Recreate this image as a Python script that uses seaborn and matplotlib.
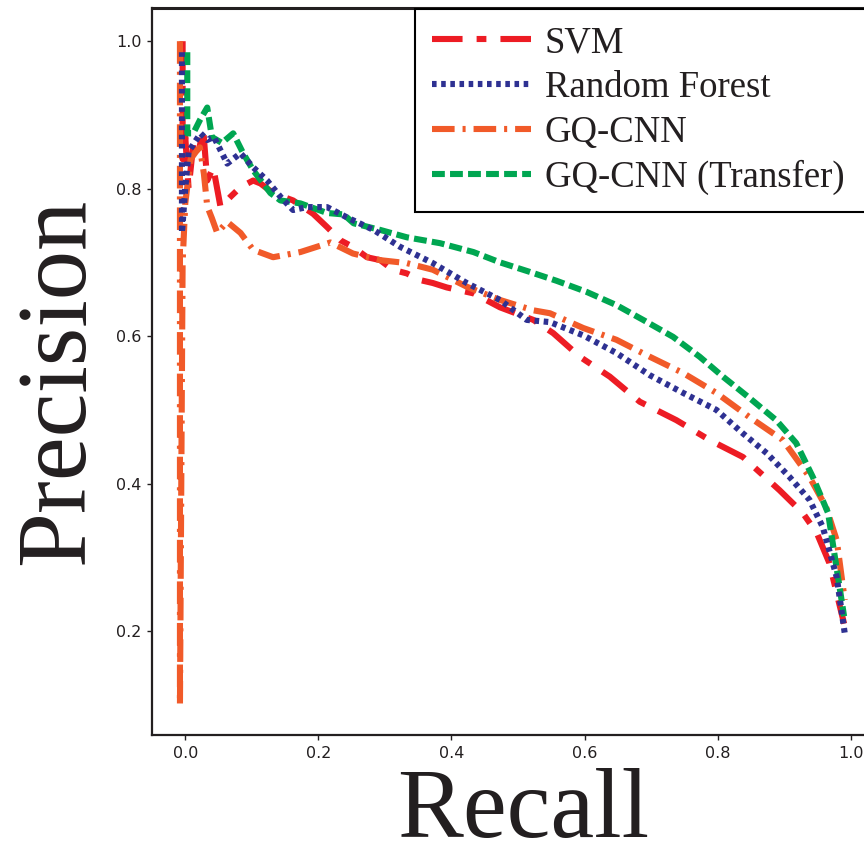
import matplotlib
matplotlib.use("Agg")
import matplotlib.pyplot as plt
import seaborn as sns
import pandas as pd

# ---------------- data ----------------
svm_recall = [-0.004, -0.004, 0.0, 0.005, 0.012, 0.02, 0.027, 0.033, 0.042, 0.053, 0.068,
              0.083, 0.102, 0.113, 0.132, 0.162, 0.192, 0.213, 0.233, 0.252, 0.273, 0.293,
              0.312, 0.333, 0.353, 0.372, 0.393, 0.433, 0.473, 0.523, 0.553, 0.593, 0.638,
              0.683, 0.738, 0.788, 0.838, 0.893, 0.928, 0.949, 0.968, 0.99]
svm_precision = [1.0, 0.84, 0.87, 0.80, 0.86, 0.85, 0.88, 0.811, 0.829, 0.775, 0.789,
                 0.802, 0.811, 0.807, 0.794, 0.784, 0.766, 0.748, 0.73, 0.721, 0.707, 0.703,
                 0.69, 0.685, 0.676, 0.672, 0.666, 0.658, 0.639, 0.622, 0.604, 0.572, 0.545,
                 0.511, 0.486, 0.459, 0.436, 0.391, 0.36, 0.333, 0.292, 0.21]

rf_recall = [-0.005, -0.005, 0.0, 0.005, 0.012, 0.023, 0.033, 0.043, 0.053, 0.063, 0.083,
             0.102, 0.123, 0.143, 0.162, 0.183, 0.213, 0.243, 0.283, 0.323, 0.372, 0.423,
             0.473, 0.513, 0.548, 0.598, 0.648, 0.698, 0.748, 0.798, 0.838, 0.874, 0.908,
             0.938, 0.958, 0.979, 0.991]
rf_precision = [0.985, 0.74, 0.80, 0.85, 0.86, 0.875, 0.866, 0.87, 0.852, 0.834, 0.848,
                0.829, 0.811, 0.789, 0.771, 0.775, 0.775, 0.761, 0.744, 0.721, 0.699, 0.672,
                0.649, 0.622, 0.619, 0.601, 0.577, 0.547, 0.523, 0.50, 0.468, 0.441, 0.409,
                0.378, 0.341, 0.273, 0.197]

gq_recall = [-0.008, -0.008, -0.004, 0.0, 0.008, 0.016, 0.022, 0.028, 0.033, 0.04, 0.048,
             0.063, 0.083, 0.102, 0.132, 0.173, 0.218, 0.252, 0.293, 0.333, 0.372, 0.423,
             0.473, 0.523, 0.548, 0.598, 0.648, 0.698, 0.748, 0.798, 0.848, 0.898, 0.938,
             0.963, 0.979, 0.991]
gq_precision = [1.0, 0.1, 0.7, 0.78, 0.84, 0.85, 0.856, 0.82, 0.776, 0.76, 0.74,
                0.755, 0.74, 0.717, 0.707, 0.714, 0.727, 0.712, 0.703, 0.699, 0.69, 0.667,
                0.649, 0.635, 0.631, 0.611, 0.595, 0.572, 0.55, 0.523, 0.49, 0.459, 0.409,
                0.368, 0.323, 0.242]

tr_recall = [0.003, 0.003, 0.012, 0.022, 0.033, 0.04, 0.055, 0.072, 0.087, 0.102, 0.128,
             0.143, 0.173, 0.213, 0.238, 0.253, 0.293, 0.333, 0.383, 0.433, 0.473, 0.518,
             0.558, 0.603, 0.648, 0.688, 0.733, 0.773, 0.808, 0.848, 0.888, 0.918, 0.943,
             0.966, 0.99]
tr_precision = [0.985, 0.875, 0.875, 0.893, 0.91, 0.87, 0.862, 0.875, 0.848, 0.825, 0.794,
                0.784, 0.78, 0.767, 0.765, 0.753, 0.744, 0.734, 0.726, 0.714, 0.70, 0.687,
                0.675, 0.66, 0.642, 0.622, 0.599, 0.572, 0.545, 0.516, 0.486, 0.455, 0.409,
                0.36, 0.22]

model_names = ["SVM", "Random Forest", "GQ-CNN", "GQ-CNN (Transfer)"]
x_ticks = [0.0, 0.2, 0.4, 0.6, 0.8, 1.0]
y_ticks = [0.2, 0.4, 0.6, 0.8, 1.0]

# ---------------- styling ----------------
sns.set_style("ticks")
plt.rcParams["font.family"] = ["DejaVu Sans"]
ink = "#231F20"

series = [
    (svm_recall, svm_precision, "#ED1C24", (0, (5.0, 2.3, 1.6, 2.3)), 2),
    (rf_recall, rf_precision, "#2E3192", (0, (0.75, 0.75)), 5),
    (gq_recall, gq_precision, "#F15A29", (0, (3.7, 1.3, 0.5, 1.3)), 3),
    (tr_recall, tr_precision, "#00A651", (0, (2.1, 0.85)), 4),
]

fig = plt.figure(figsize=(8.64, 8.46), dpi=100)
ax = fig.add_axes([152 / 864, 1 - 735 / 846, (884 - 152) / 864, (735 - 8) / 846])

for name, (xs, ys, col, ls, z) in zip(model_names, series):
    df = pd.DataFrame({"Recall": xs, "Precision": ys})
    sns.lineplot(data=df, x="Recall", y="Precision", ax=ax, sort=False, estimator=None,
                 color=col, linewidth=4.4, linestyle=ls, label=name, zorder=z)

ax.set_xlim(-0.05, 1.05)
ax.set_ylim(0.059, 1.045)
ax.set_xticks(x_ticks)
ax.set_yticks(y_ticks)
ax.tick_params(axis="both", direction="out", length=3.6, width=1.0, color=ink,
               labelcolor=ink, labelsize=11.5, pad=4)
for s in ["left", "bottom", "top", "right"]:
    ax.spines[s].set_color(ink)
    ax.spines[s].set_linewidth(1.6)
ax.spines["top"].set_linewidth(2.2)

serif = ["Liberation Serif", "DejaVu Serif"]
ax.set_xlabel("Recall", fontsize=71, family=serif, color=ink)
ax.set_ylabel("Precision", fontsize=71, family=serif, color=ink)
ax.xaxis.set_label_coords(0.5075, -0.045)
ax.yaxis.set_label_coords(-0.066, 0.486)

leg_top = 1 - 9 / 846
leg_h = (207 - 9) / 846
leg = ax.legend(loc="upper left",
                bbox_to_anchor=(415 / 864, leg_top - leg_h, (890 - 415) / 864, leg_h),
                bbox_transform=fig.transFigure, borderaxespad=0, mode="expand",
                prop={"family": serif, "size": 26.5}, frameon=True, fancybox=False,
                framealpha=1, edgecolor="black", handlelength=2.7,
                handletextpad=0.38, labelspacing=0.28, borderpad=0.45)
leg.get_frame().set_linewidth(1.5)
for t in leg.get_texts():
    t.set_color(ink)

fig.savefig("out.png", dpi=100)
